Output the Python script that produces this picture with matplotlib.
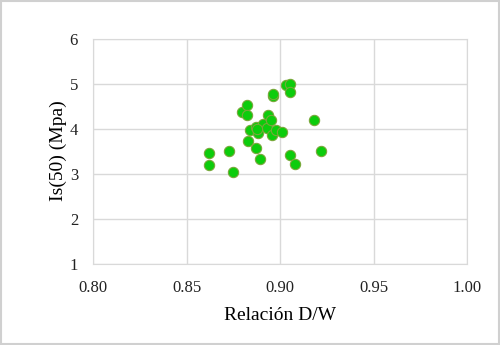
import matplotlib
matplotlib.use("Agg")
import matplotlib.pyplot as plt

# Relacion D/W vs Is(50)
dw = [0.862, 0.862, 0.8725, 0.875, 0.8795, 0.8825, 0.882, 0.883, 0.884,
      0.887, 0.887, 0.888, 0.889, 0.891, 0.8937, 0.893, 0.895, 0.8955,
      0.8959, 0.896, 0.898, 0.901, 0.9032, 0.9055, 0.905, 0.9054, 0.9082,
      0.918, 0.9218, 0.8875]
is50 = [3.45, 3.19, 3.49, 3.03, 4.37, 4.52, 4.30, 3.72, 3.97,
        3.57, 4.03, 3.89, 3.32, 4.10, 4.29, 4.01, 4.19, 3.86,
        4.72, 4.77, 3.97, 3.93, 4.96, 5.00, 4.82, 3.41, 3.22,
        4.20, 3.51, 3.98]

xticks = [0.80, 0.85, 0.90, 0.95, 1.00]
yticks = [1, 2, 3, 4, 5, 6]

plt.rcParams['font.family'] = ['Liberation Serif', 'DejaVu Serif']

fig = plt.figure(figsize=(5, 3.45), dpi=100)
ax = fig.add_axes([0.1867, 0.2362, 0.7473, 0.6522])

ax.scatter(dw, is50, s=55, color='#0ccc0c', edgecolors='#78a83a',
           linewidths=0.8, zorder=3)

ax.set_xlim(0.80, 1.00)
ax.set_ylim(1, 6)
ax.set_xticks(xticks)
ax.set_xticklabels(['%.2f' % t for t in xticks])
ax.set_yticks(yticks)
ax.grid(True, color='#d9d9d9', linewidth=1)
ax.set_axisbelow(True)
for s in ax.spines.values():
    s.set_color('#d9d9d9')
ax.tick_params(axis='x', length=0, labelsize=12, pad=12, colors='#222222')
ax.tick_params(axis='y', length=0, labelsize=12, pad=11, colors='#222222')

ax.set_xlabel('Relación D/W', fontsize=14, labelpad=8)
ax.set_ylabel('Is(50) (Mpa)', fontsize=14, labelpad=2)

# light frame around the figure
fig.patches.append(plt.Rectangle((0.002, 0.003), 0.996, 0.994, transform=fig.transFigure,
                                 fill=False, edgecolor='#d0d0d0', linewidth=1.5))

fig.savefig('out.png', dpi=100)
